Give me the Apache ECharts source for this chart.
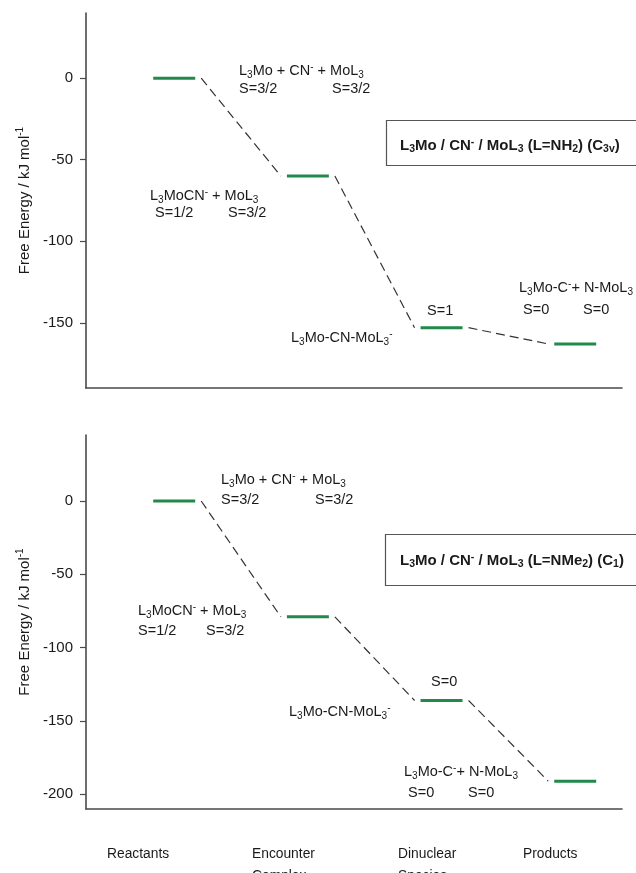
<!DOCTYPE html>
<html><head><meta charset="utf-8">
<script src="https://cdn.jsdelivr.net/npm/echarts@6.0.0/dist/echarts.min.js"></script>
<style>html,body{margin:0;padding:0;background:#fff}#c{width:636px;height:873px}</style>
</head><body><div id="c"></div>
<script>
// ---- data ----
const stages = ['Reactants', 'Encounter\nComplex', 'Dinuclear\nSpecies', 'Products'];
const stageX = [1, 2, 3, 4];
const energiesNH2 = [0, -60, -153, -163];
const energiesNMe2 = [0, -79, -136, -191];
const yTicksTop = [0, -50, -100, -150];
const yTicksBottom = [0, -50, -100, -150, -200];
const yTitle = 'Free Energy / kJ mol^{-1}';
const titleTop = 'L_3Mo / CN^- / MoL_3 (L=NH_2) (C_{3v})';
const titleBottom = 'L_3Mo / CN^- / MoL_3 (L=NMe_2) (C_1)';

// annotation texts (markup: _x subscript, ^x superscript)
const notesTop = [
  ['L_3Mo + CN^- + MoL_3', 239, 71],
  ['S=3/2', 239, 89], ['S=3/2', 332, 89],
  ['L_3MoCN^- + MoL_3', 150, 196],
  ['S=1/2', 155, 213], ['S=3/2', 228, 213],
  ['L_3Mo-CN-MoL_3^-', 291, 338],
  ['S=1', 427, 311],
  ['L_3Mo-C^-+ N-MoL_3', 519, 288],
  ['S=0', 523, 310], ['S=0', 583, 310]
];
const notesBottom = [
  ['L_3Mo + CN^- + MoL_3', 221, 480],
  ['S=3/2', 221, 500], ['S=3/2', 315, 500],
  ['L_3MoCN^- + MoL_3', 138, 611],
  ['S=1/2', 138, 631], ['S=3/2', 206, 631],
  ['L_3Mo-CN-MoL_3^-', 289, 712],
  ['S=0', 431, 682],
  ['L_3Mo-C^-+ N-MoL_3', 404, 772],
  ['S=0', 408, 793], ['S=0', 468, 793]
];
const stageLabelX = [107, 252, 398, 523];

// ---- styles ----
const GREEN = '#22894a';
const AXIS = '#4a4a4a';
const HALF = 0.157;
const GAP = 0.045;
const FONT = 'Liberation Sans, Arial, Helvetica, sans-serif';

function R(s, base) {
  let out = '', buf = '';
  for (let i = 0; i < s.length; i++) {
    const c = s[i];
    if (c === '_' || c === '^') {
      let t;
      if (s[i + 1] === '{') { const j = s.indexOf('}', i); t = s.slice(i + 2, j); i = j; }
      else { t = s[i + 1]; i++; }
      if (buf) { out += '{' + base + '|' + buf + '}'; buf = ''; }
      out += '{' + base + (c === '_' ? 'Sub' : 'Sup') + '|' + t + '}';
    } else buf += c;
  }
  if (buf) out += '{' + base + '|' + buf + '}';
  return out;
}
function richSet(size, small, weight) {
  return {
    m: { fontSize: size, fontWeight: weight, fontFamily: FONT, lineHeight: 18, fill: '#1a1a1a', color: '#1a1a1a' },
    mSub: { fontSize: small, fontWeight: weight, fontFamily: FONT, lineHeight: 10, verticalAlign: 'bottom', fill: '#1a1a1a', color: '#1a1a1a' },
    mSup: { fontSize: small, fontWeight: weight, fontFamily: FONT, lineHeight: 10, verticalAlign: 'top', fill: '#1a1a1a', color: '#1a1a1a' }
  };
}
const richN = richSet(14.5, 10, 'normal');
const richB = richSet(15, 10.5, 'bold');

function textEl(s, x, y, rich) {
  return { type: 'text', silent: true, z: 10, style: { x: x, y: y, text: R(s, 'm'), rich: rich, align: 'left', verticalAlign: 'middle', fontFamily: FONT, fontSize: 14, fill: '#1a1a1a' } };
}

const graphics = [];
notesTop.forEach(n => graphics.push(textEl(n[0], n[1], n[2], richN)));
notesBottom.forEach(n => graphics.push(textEl(n[0], n[1], n[2], richN)));
graphics.push({ type: 'rect', silent: true, shape: { x: 386.5, y: 120.5, width: 270, height: 45 }, style: { fill: '#fff', stroke: '#555', lineWidth: 1.2 }, z: 5 });
graphics.push({ type: 'rect', silent: true, shape: { x: 385.5, y: 534.5, width: 270, height: 51 }, style: { fill: '#fff', stroke: '#555', lineWidth: 1.2 }, z: 5 });
graphics.push(textEl(titleTop, 400, 146, richB));
graphics.push(textEl(titleBottom, 400, 561, richB));
stages.forEach((s, i) => graphics.push({
  type: 'text', silent: true, style: { x: stageLabelX[i], y: 843, text: s, align: 'left', verticalAlign: 'top', fontFamily: FONT, fontSize: 13.8, lineHeight: 22, fill: '#1a1a1a' }
}));

function xAxisCfg(gi) {
  return { type: 'value', gridIndex: gi, min: 0.34, max: 4.35,
    axisLine: { show: true, onZero: false, lineStyle: { color: AXIS, width: 1.6 } },
    axisTick: { show: false }, axisLabel: { show: false }, splitLine: { show: false } };
}
function yAxisCfg(gi, min, max, ticks) {
  return { type: 'value', gridIndex: gi, min: min, max: max,
    name: R(yTitle, 'm'), nameLocation: 'middle', nameRotate: 90, nameGap: 52,
    nameTextStyle: { rich: richSet(15, 10, 'normal') },
    axisLine: { show: true, lineStyle: { color: AXIS, width: 1.6 } },
    axisTick: { show: true, length: 6, customValues: ticks, lineStyle: { color: AXIS, width: 1.2 } },
    axisLabel: { show: true, customValues: ticks, margin: 13, fontSize: 15, fontFamily: FONT, color: '#1a1a1a' },
    splitLine: { show: false } };
}
function levelSeries(gi, energies) {
  return { type: 'custom', xAxisIndex: gi, yAxisIndex: gi, silent: true, z: 3,
    data: energies.map((v, i) => [stageX[i], v]),
    renderItem: (p, api) => {
      const x = api.value(0), y = api.value(1);
      const a = api.coord([x - HALF, y]), b = api.coord([x + HALF, y]);
      return { type: 'line', shape: { x1: a[0], y1: a[1], x2: b[0], y2: b[1] }, style: { stroke: GREEN, lineWidth: 3 } };
    } };
}
function connectorSeries(gi, energies) {
  const d = [];
  for (let i = 0; i < energies.length - 1; i++) d.push([stageX[i], energies[i], stageX[i + 1], energies[i + 1]]);
  return { type: 'custom', xAxisIndex: gi, yAxisIndex: gi, silent: true, z: 2,
    dimensions: ['x1', 'y1', 'x2', 'y2'],
    encode: { x: [0, 2], y: [1, 3] },
    data: d,
    renderItem: (p, api) => {
      const a = api.coord([api.value(0) + HALF + GAP, api.value(1)]);
      const b = api.coord([api.value(2) - HALF - GAP, api.value(3)]);
      return { type: 'line', shape: { x1: a[0], y1: a[1], x2: b[0], y2: b[1] }, style: { stroke: '#333', lineWidth: 1.2, lineDash: [9, 5] } };
    } };
}

const chart = echarts.init(document.getElementById('c'), null, { renderer: 'canvas' });
chart.setOption({
  backgroundColor: '#fff',
  animation: false,
  grid: [
    { left: 86, top: 13, width: 536, height: 375 },
    { left: 86, top: 435, width: 536, height: 374 }
  ],
  xAxis: [xAxisCfg(0), xAxisCfg(1)],
  yAxis: [yAxisCfg(0, -190, 40, yTicksTop), yAxisCfg(1, -210, 45, yTicksBottom)],
  series: [
    levelSeries(0, energiesNH2), connectorSeries(0, energiesNH2),
    levelSeries(1, energiesNMe2), connectorSeries(1, energiesNMe2)
  ],
  graphic: graphics
});
</script></body></html>
